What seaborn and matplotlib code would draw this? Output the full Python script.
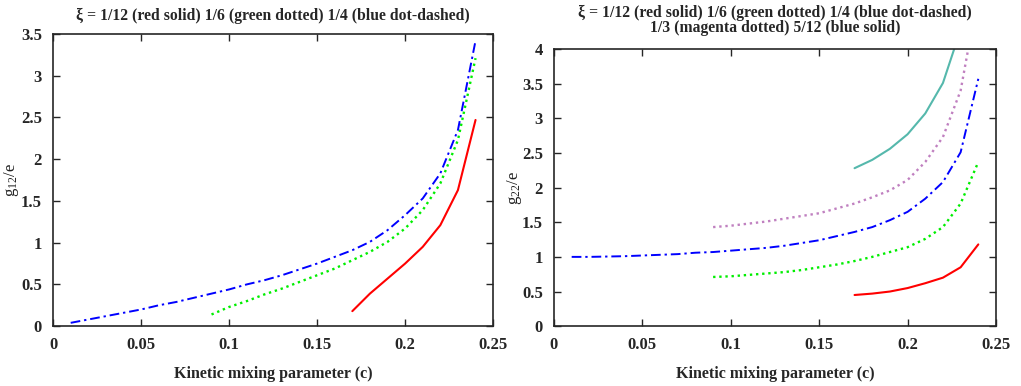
import matplotlib
matplotlib.use("Agg")
import matplotlib.pyplot as plt
import seaborn as sns

# kinetic mixing parameter grids
c_01 = [0.01, 0.02, 0.03, 0.04, 0.05, 0.06, 0.07, 0.08, 0.09, 0.10, 0.11, 0.12,
        0.13, 0.14, 0.15, 0.16, 0.17, 0.18, 0.19, 0.20, 0.21, 0.22, 0.23, 0.24]
c_09 = [0.09, 0.10, 0.11, 0.12, 0.13, 0.14, 0.15, 0.16, 0.17, 0.18, 0.19, 0.20,
        0.21, 0.22, 0.23, 0.24]
c_17 = [0.17, 0.18, 0.19, 0.20, 0.21, 0.22, 0.23, 0.24]
c_17b = [0.17, 0.18, 0.19, 0.20, 0.21, 0.22, 0.23]

# g12/e (left panel)
g12_xi1_12 = [0.18, 0.39, 0.57, 0.75, 0.95, 1.21, 1.63, 2.47]
g12_xi1_6 = [0.14, 0.23, 0.30, 0.38, 0.45, 0.53, 0.61, 0.69, 0.79, 0.89, 1.01,
             1.17, 1.39, 1.71, 2.23, 3.21]
g12_xi1_4 = [0.04, 0.08, 0.12, 0.16, 0.20, 0.25, 0.29, 0.34, 0.39, 0.44, 0.50,
             0.55, 0.61, 0.68, 0.75, 0.83, 0.91, 1.01, 1.15, 1.33, 1.53, 1.83,
             2.35, 3.42]

# g22/e (right panel)
g22_xi1_12 = [0.45, 0.47, 0.50, 0.55, 0.62, 0.70, 0.85, 1.18]
g22_xi1_6 = [0.71, 0.72, 0.74, 0.76, 0.78, 0.81, 0.85, 0.89, 0.94, 1.00, 1.07,
             1.14, 1.26, 1.43, 1.77, 2.37]
g22_xi1_4 = [1.00, 1.00, 1.005, 1.01, 1.02, 1.03, 1.04, 1.06, 1.07, 1.09, 1.11,
             1.13, 1.16, 1.20, 1.24, 1.30, 1.36, 1.43, 1.53, 1.65, 1.84, 2.08,
             2.51, 3.57]
g22_xi1_3 = [1.43, 1.45, 1.48, 1.51, 1.55, 1.59, 1.63, 1.70, 1.77, 1.86, 1.96,
             2.11, 2.37, 2.73, 3.40, 4.80]
g22_xi5_12 = [2.28, 2.40, 2.56, 2.77, 3.07, 3.51, 4.28]

x_ticks = [0, 0.05, 0.1, 0.15, 0.2, 0.25]
x_labels = ["0", "0.05", "0.1", "0.15", "0.2", "0.25"]

RED, GREEN, BLUE = "#ff0000", "#00ee00", "#0000ff"
MAGENTA, TEAL = "#c080c0", "#55b8ac"
DASHDOT = (0, (5, 2, 1.2, 2))
DOTTED = (0, (1, 1.6))


def style_axis(ax, y_top, y_step, ylabel, ylabel_x):
    ax.set_xlim(0, 0.25)
    ax.set_ylim(0, y_top)
    ax.set_xticks(x_ticks)
    ax.set_xticklabels(x_labels)
    yt = [i * y_step for i in range(int(round(y_top / y_step)) + 1)]
    ax.set_yticks(yt)
    ax.set_yticklabels([f"{v:g}" for v in yt])
    ax.tick_params(direction="in", top=True, right=True, length=5, width=1,
                   pad=8, labelsize=12)
    for lab in ax.get_xticklabels() + ax.get_yticklabels():
        lab.set_fontweight("bold")
    for sp in ax.spines.values():
        sp.set_linewidth(1.2)
    ax.set_xlabel("Kinetic mixing parameter (c)", fontsize=11.5,
                  fontweight="bold", labelpad=9)
    ax.set_ylabel(ylabel, fontsize=12, color="#222222")
    ax.yaxis.set_label_coords(ylabel_x, 0.5)


def main():
    sns.set_style("ticks")
    plt.rcParams["font.family"] = ["Liberation Serif", "DejaVu Serif"]
    plt.rcParams["mathtext.fontset"] = "custom"
    plt.rcParams["mathtext.rm"] = "Liberation Serif"
    plt.rcParams["mathtext.it"] = "Liberation Serif"

    fig = plt.figure(figsize=(10.21, 3.86), dpi=100)
    ax1 = fig.add_axes([0.052, 0.155, 0.431, 0.757])
    ax2 = fig.add_axes([0.5426, 0.155, 0.4329, 0.718])

    sns.lineplot(x=c_17, y=g12_xi1_12, ax=ax1, color=RED, lw=1.5)
    sns.lineplot(x=c_09, y=g12_xi1_6, ax=ax1, color=GREEN, lw=1.7,
                 linestyle=DOTTED)
    sns.lineplot(x=c_01, y=g12_xi1_4, ax=ax1, color=BLUE, lw=1.4,
                 linestyle=DASHDOT)

    sns.lineplot(x=c_17, y=g22_xi1_12, ax=ax2, color=RED, lw=1.5)
    sns.lineplot(x=c_09, y=g22_xi1_6, ax=ax2, color=GREEN, lw=1.7,
                 linestyle=DOTTED)
    sns.lineplot(x=c_01, y=g22_xi1_4, ax=ax2, color=BLUE, lw=1.4,
                 linestyle=DASHDOT)
    sns.lineplot(x=c_09, y=g22_xi1_3, ax=ax2, color=MAGENTA, lw=1.7,
                 linestyle=DOTTED)
    sns.lineplot(x=c_17b, y=g22_xi5_12, ax=ax2, color=TEAL, lw=1.5)

    style_axis(ax1, 3.5, 0.5, "g$_{12}$/e", -0.074)
    style_axis(ax2, 4, 0.5, "g$_{22}$/e", -0.068)

    ax1.set_title("ξ = 1/12 (red solid) 1/6 (green dotted) 1/4 (blue dot-dashed)",
                  fontsize=11.3, fontweight="bold", pad=10)
    ax2.set_title("ξ = 1/12 (red solid) 1/6 (green dotted) 1/4 (blue dot-dashed)\n"
                  "1/3 (magenta dotted) 5/12 (blue solid)",
                  fontsize=11.3, fontweight="bold", pad=12, linespacing=0.95)

    fig.savefig("out.png", dpi=100)


if __name__ == '__main__':
    main()
